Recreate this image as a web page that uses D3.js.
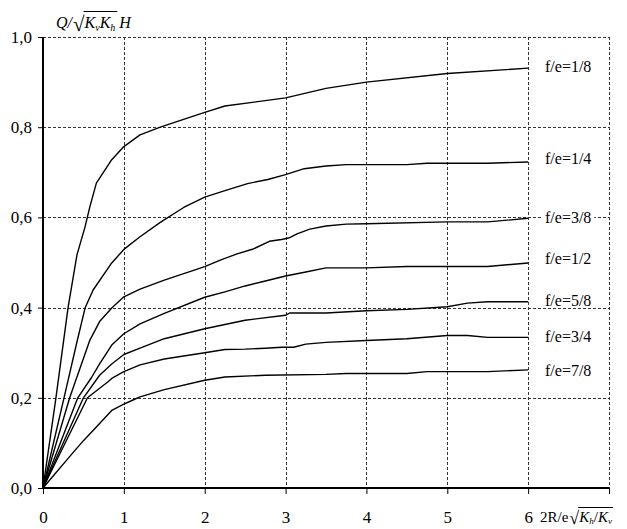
<!DOCTYPE html>
<html><head><meta charset="utf-8">
<script src="https://cdn.jsdelivr.net/npm/d3@7"></script>
<style>
html,body{margin:0;padding:0;background:#fff;}
svg{display:block;}
</style></head>
<body><svg id="chart" width="627" height="529"></svg>
<script>
// ---- data ----
const seriesLabels = ["f/e=1/8","f/e=1/4","f/e=3/8","f/e=1/2","f/e=5/8","f/e=3/4","f/e=7/8"];
const labelYValues = [0.935, 0.731, 0.600, 0.508, 0.417, 0.337, 0.261];
const s1_8 = [[0,0],[0.16,0.2],[0.31,0.4],[0.42,0.517],[0.52,0.579],[0.58,0.624],[0.66,0.676],[0.85,0.728],[1,0.757],[1.2,0.783],[1.45,0.80],[2,0.833],[2.25,0.847],[3,0.865],[3.5,0.886],[4,0.90],[5,0.919],[6,0.931]];
const s1_4 = [[0,0],[0.26,0.2],[0.416,0.321],[0.52,0.399],[0.62,0.439],[0.85,0.499],[1,0.529],[1.2,0.557],[1.45,0.589],[1.74,0.622],[2,0.645],[2.26,0.66],[2.53,0.675],[2.78,0.684],[3,0.695],[3.23,0.708],[3.5,0.714],[3.75,0.717],[4.5,0.717],[4.75,0.72],[5.5,0.72],[6,0.723]];
const s3_8 = [[0,0],[0.33,0.2],[0.58,0.328],[0.70,0.369],[0.85,0.399],[1,0.424],[1.2,0.441],[1.5,0.461],[2,0.491],[2.2,0.506],[2.4,0.519],[2.6,0.53],[2.8,0.547],[2.95,0.551],[3.05,0.555],[3.15,0.564],[3.3,0.574],[3.5,0.581],[3.75,0.585],[4,0.586],[5,0.59],[5.5,0.59],[6,0.598]];
const s1_2 = [[0,0],[0.43,0.2],[0.6,0.245],[0.7,0.275],[0.85,0.317],[1,0.342],[1.2,0.364],[1.5,0.387],[2,0.423],[2.25,0.435],[2.5,0.448],[2.75,0.459],[3,0.47],[3.25,0.479],[3.5,0.488],[4,0.488],[4.5,0.491],[5.5,0.491],[6,0.499]];
const s5_8 = [[0,0],[0.5,0.2],[0.7,0.25],[0.85,0.275],[1,0.296],[1.2,0.31],[1.5,0.331],[2,0.353],[2.5,0.372],[3,0.383],[3.05,0.388],[3.5,0.388],[4,0.393],[4.5,0.396],[5,0.402],[5.25,0.41],[5.5,0.413],[6,0.413]];
const s3_4 = [[0,0],[0.55,0.2],[0.8,0.235],[0.85,0.243],[1,0.258],[1.2,0.273],[1.5,0.286],[2,0.30],[2.25,0.307],[2.5,0.308],[2.75,0.31],[2.95,0.312],[3.1,0.312],[3.25,0.319],[3.5,0.323],[4,0.327],[4.5,0.331],[5,0.338],[5.25,0.338],[5.5,0.334],[6,0.334]];
const s7_8 = [[0,0],[0.35,0.074],[0.5,0.105],[0.7,0.143],[0.85,0.172],[1,0.186],[1.1,0.194],[1.2,0.202],[1.5,0.218],[2,0.239],[2.25,0.246],[2.75,0.25],[3.5,0.252],[3.75,0.254],[4.5,0.254],[4.75,0.258],[5.5,0.258],[6,0.262]];
const series = [s1_8, s1_4, s3_8, s1_2, s5_8, s3_4, s7_8];
const xTicks = [0,1,2,3,4,5,6,7];
const xTickLabels = ["0","1","2","3","4","5","6",""];
const yTicks = [0,0.2,0.4,0.6,0.8,1.0];
const yTickLabels = ["0,0","0,2","0,4","0,6","0,8","1,0"];

// ---- chart ----
const FONT = "'Liberation Serif'";
const svg = d3.select("#chart");
const x = d3.scaleLinear().domain([0,7]).range([43,609]);
const y = d3.scaleLinear().domain([0,1]).range([488,37]);

// grid
const grid = svg.append("g").attr("stroke","#333").attr("stroke-width",1).attr("stroke-dasharray","3,2").attr("fill","none");
xTicks.filter(d=>d>0).forEach(d=>{
  grid.append("line").attr("x1",Math.round(x(d))+0.5).attr("x2",Math.round(x(d))+0.5).attr("y1",y(1)).attr("y2",y(0));
});
yTicks.filter(d=>d>0).forEach(d=>{
  grid.append("line").attr("x1",x(0)).attr("x2",x(7)).attr("y1",Math.round(y(d))+0.5).attr("y2",Math.round(y(d))+0.5);
});

// axes
const xAxis = d3.axisBottom(x).tickValues(xTicks).tickFormat((d,i)=>xTickLabels[i]).tickSize(6).tickPadding(17);
const yAxis = d3.axisLeft(y).tickValues(yTicks).tickFormat((d,i)=>yTickLabels[i]).tickSize(5).tickPadding(6);
const gx = svg.append("g").attr("transform",`translate(0,${y(0)})`).call(xAxis);
const gy = svg.append("g").attr("transform",`translate(${x(0)},0)`).call(yAxis);
[gx,gy].forEach(g=>{
  g.select(".domain").attr("stroke","#000").attr("stroke-width",2);
  g.selectAll(".tick line").attr("stroke","#000").attr("stroke-width",1);
  g.selectAll(".tick text").style("font-family",FONT).attr("font-size",17).attr("fill","#000");
});
gy.select(".domain").attr("d",`M0,${y(0)}V${y(1)}`);
gx.select(".domain").attr("d",`M${x(0)},0H${x(7)}`);

// curves
const line = d3.line().x(d=>x(d[0])).y(d=>y(d[1]));
svg.append("g").selectAll("path").data(series).join("path")
  .attr("d",line).attr("fill","none").attr("stroke","#000").attr("stroke-width",1.4).attr("stroke-linejoin","round");

// curve labels
const lg = svg.append("g");
seriesLabels.forEach((t,i)=>{
  const g = lg.append("g");
  const tx = g.append("text").attr("x",545).attr("y",y(labelYValues[i])).attr("dy","0.35em").attr("font-size",16).style("font-family",FONT).text(t);
  const bb = tx.node().getBBox();
  g.insert("rect","text").attr("x",bb.x-3).attr("y",bb.y+1).attr("width",bb.width+6).attr("height",bb.height-2).attr("fill","#fff");
});

// y-axis title: Q/ sqrt(Kv Kh) H
const tg = svg.append("g");
const t1 = tg.append("text").attr("x",56).attr("y",28).attr("font-size",16).attr("font-style","italic").style("font-family",FONT).text("Q/");
const w1 = t1.node().getComputedTextLength();
const sx = 56 + w1 + 1;
const rad = tg.append("text").attr("x",sx).attr("y",31).attr("font-size",21).style("font-family",FONT).text("√");
const rw = rad.node().getComputedTextLength();
const inner = tg.append("text").attr("x",sx+rw).attr("y",28).attr("font-size",16).attr("font-style","italic").style("font-family",FONT);
inner.append("tspan").text("K");
inner.append("tspan").attr("font-size",10).attr("dy",3).text("v");
inner.append("tspan").attr("dy",-3).text("K");
inner.append("tspan").attr("font-size",10).attr("dy",3).text("h");
const iw = inner.node().getComputedTextLength();
tg.append("line").attr("x1",sx+rw-1).attr("x2",sx+rw+iw+2).attr("y1",11.5).attr("y2",11.5).attr("stroke","#000").attr("stroke-width",1);
tg.append("text").attr("x",sx+rw+iw+4).attr("y",28).attr("font-size",16).attr("font-style","italic").style("font-family",FONT).text("H");

// x-axis title: 2R/e sqrt(Kh / Kv)
const xg = svg.append("g");
const x0 = 540, bl = 522;
const xt = xg.append("text").attr("x",x0).attr("y",bl).attr("font-size",15).style("font-family",FONT).text("2R/e");
const xw = xt.node().getComputedTextLength();
const xr = xg.append("text").attr("x",x0+xw+1).attr("y",bl+2).attr("font-size",18).style("font-family",FONT).text("√");
const xrw = xr.node().getComputedTextLength();
const xin = xg.append("text").attr("x",x0+xw+1+xrw).attr("y",bl).attr("font-size",15).attr("font-style","italic").style("font-family",FONT);
xin.append("tspan").text("K");
xin.append("tspan").attr("font-size",9).attr("dy",2).text("h");
xin.append("tspan").attr("dy",-2).attr("font-style","normal").text("/");
xin.append("tspan").text("K");
xin.append("tspan").attr("font-size",9).attr("dy",2).text("v");
const xiw = xin.node().getComputedTextLength();
xg.append("line").attr("x1",x0+xw+1+xrw-1).attr("x2",x0+xw+1+xrw+xiw+1).attr("y1",bl-14.5).attr("y2",bl-14.5).attr("stroke","#000").attr("stroke-width",1);
</script></body></html>
